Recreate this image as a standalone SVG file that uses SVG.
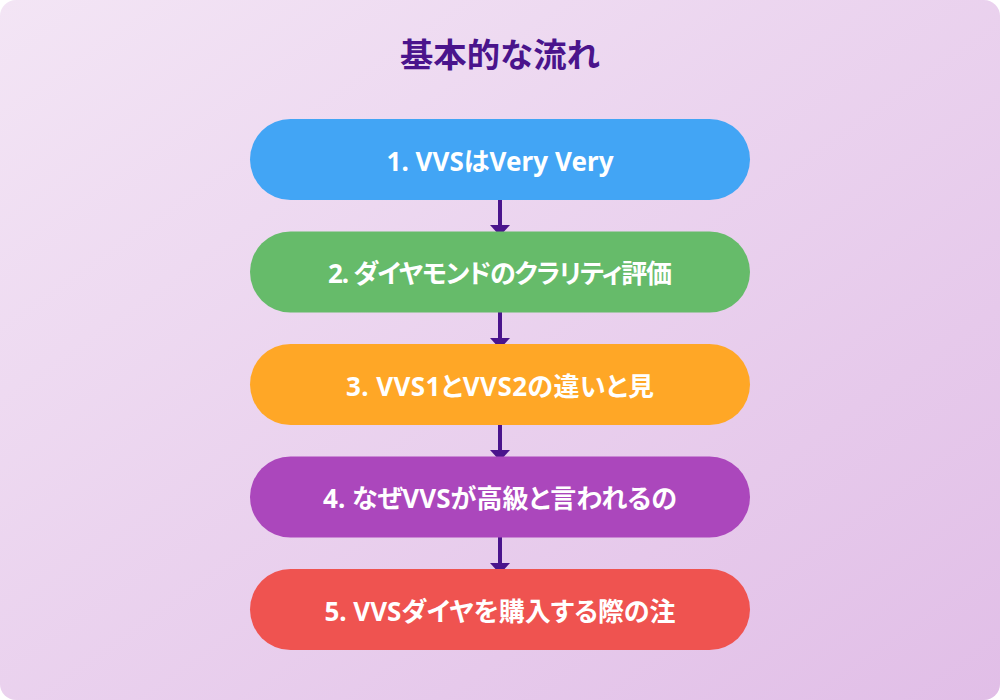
<svg xmlns="http://www.w3.org/2000/svg" width="1000" height="700" viewBox="0 0 1000 700">
  <defs>
    <linearGradient id="bg" x1="0" y1="0" x2="1" y2="1">
      <stop offset="0" stop-color="#f3e5f5"/>
      <stop offset="1" stop-color="#e1bee7"/>
    </linearGradient>
    <style>
      .node-text { font-family: "Noto Sans", "Noto Sans CJK JP", sans-serif; font-weight: bold; font-size: 26px; fill: #ffffff; text-anchor: middle; font-feature-settings: "palt"; }
      .title { font-family: "Noto Sans CJK JP", "Noto Sans", sans-serif; font-weight: bold; font-size: 33px; fill: #4a148c; text-anchor: middle; }
      .conn { stroke: #4a148c; stroke-width: 4; fill: none; }
      .head { fill: #4a148c; }
    </style>
  </defs>
  <rect x="0" y="0" width="1000" height="700" fill="#ffffff"/>
  <rect x="0" y="0" width="1000" height="700" rx="16" fill="url(#bg)"/>
  <text class="title" x="500" y="67" textLength="200" lengthAdjust="spacingAndGlyphs">基本的な流れ</text>

  <g id="connectors">
    <line class="conn" x1="500" y1="200" x2="500" y2="227"/>
    <polygon class="head" points="490,225 510,225 500,236"/>
    <line class="conn" x1="500" y1="312" x2="500" y2="339"/>
    <polygon class="head" points="490,338 510,338 500,349"/>
    <line class="conn" x1="500" y1="425" x2="500" y2="452"/>
    <polygon class="head" points="490,450 510,450 500,461"/>
    <line class="conn" x1="500" y1="537" x2="500" y2="564"/>
    <polygon class="head" points="490,563 510,563 500,574"/>
  </g>

  <g id="node1">
    <rect x="250" y="119" width="500" height="81" rx="40.5" fill="#42a5f5"/>
    <text class="node-text" x="500" y="170.5" textLength="227" lengthAdjust="spacing">1. VVSはVery Very</text>
  </g>
  <g id="node2">
    <rect x="250" y="231.5" width="500" height="81" rx="40.5" fill="#66bb6a"/>
    <text class="node-text" x="500" y="283" textLength="344" lengthAdjust="spacing">2. ダイヤモンドのクラリティ評価</text>
  </g>
  <g id="node3">
    <rect x="250" y="344" width="500" height="81" rx="40.5" fill="#ffa726"/>
    <text class="node-text" x="500" y="395.5" textLength="308" lengthAdjust="spacing">3. VVS1とVVS2の違いと見</text>
  </g>
  <g id="node4">
    <rect x="250" y="456.5" width="500" height="81" rx="40.5" fill="#ab47bc"/>
    <text class="node-text" x="500" y="508" textLength="354" lengthAdjust="spacing">4. なぜVVSが高級と言われるの</text>
  </g>
  <g id="node5">
    <rect x="250" y="569" width="500" height="81" rx="40.5" fill="#ef5350"/>
    <text class="node-text" x="500" y="620.5" textLength="351" lengthAdjust="spacing">5. VVSダイヤを購入する際の注</text>
  </g>
</svg>
